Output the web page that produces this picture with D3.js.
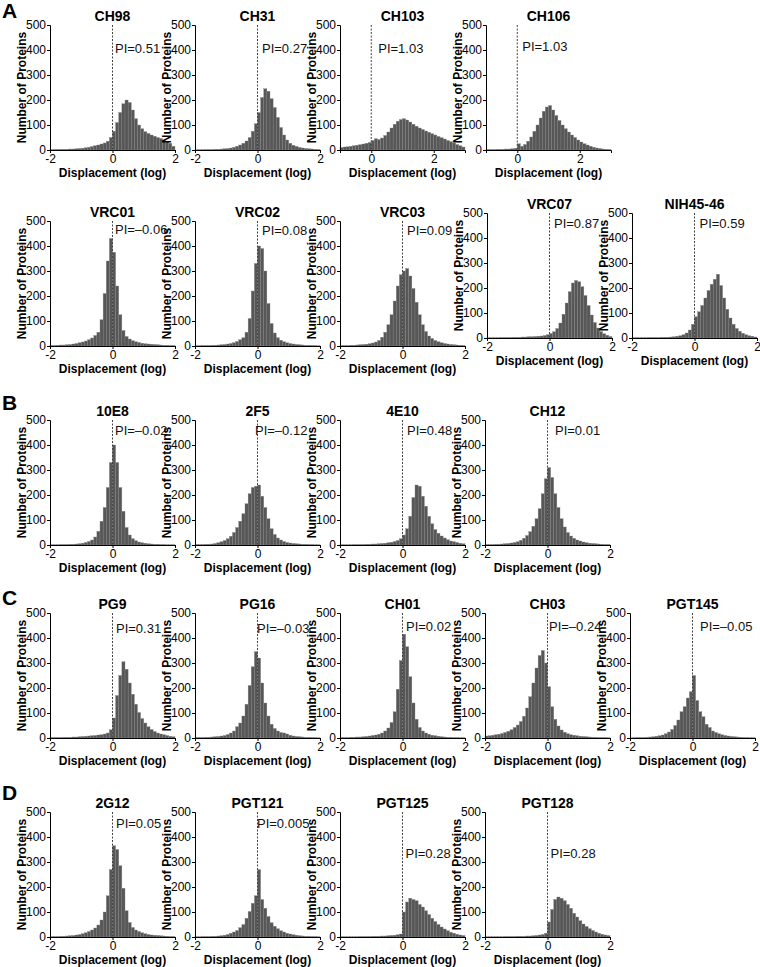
<!DOCTYPE html>
<html><head><meta charset="utf-8">
<script src="https://cdn.jsdelivr.net/npm/d3@7"></script>
<style>
body{margin:0;background:#fff;}
svg{display:block;font-family:"Liberation Sans",Arial,sans-serif;}
</style></head>
<body><svg id="c" width="760" height="967"></svg>
<script>
// ---- data: counts per 0.1-log bin, starting at the panel's domain minimum ----
const CH98   = [2,2,2,3,3,3,4,4,5,6,7,9,11,14,17,20,24,28,35,50,75,110,150,185,200,190,160,125,100,85,73,66,60,55,50,46,40,34,27,15];
const CH31   = [1,1,1,2,2,2,3,3,4,5,6,8,11,15,20,27,36,50,75,105,150,210,245,235,205,170,130,90,60,40,27,19,14,10,8,6,5,4,3,2];
const CH103  = [10,12,13,15,17,19,21,24,27,30,38,45,42,48,58,72,88,103,115,122,125,120,112,103,95,88,82,76,71,65,60,54,49,44,38,33,28,22,17,12];
const CH106  = [2,2,2,3,3,3,4,4,5,7,25,15,22,35,52,75,100,128,155,172,178,160,138,118,100,85,72,60,50,40,32,25,20,15,11,8,6,4,3,2];
const VRC01  = [2,2,3,4,4,5,6,8,10,13,16,20,25,32,42,55,105,210,340,430,375,240,125,62,38,28,21,17,14,11,9,8,7,6,5,4,3,3,2,2];
const VRC02  = [1,1,2,2,2,3,3,4,5,6,8,10,13,18,25,33,55,110,220,330,400,390,300,170,90,52,33,23,17,13,10,8,6,5,4,3,3,2,2,1];
const VRC03  = [2,2,2,3,3,4,5,6,7,9,12,16,22,35,55,85,125,180,240,285,300,310,280,230,175,125,85,58,40,30,22,17,13,10,8,6,5,4,3,2];
const VRC07  = [1,1,1,1,2,2,2,2,3,3,3,4,4,5,5,6,7,8,10,13,18,25,38,60,95,140,185,220,230,225,205,170,130,92,62,40,26,17,11,6];
const NIH4546= [1,1,1,1,1,2,2,2,2,3,3,3,4,5,7,9,13,20,32,55,85,105,130,160,190,215,235,255,210,160,115,80,55,38,27,19,13,9,7,4];
const E10E8  = [1,1,1,2,2,2,3,3,4,5,7,10,14,20,32,55,95,150,230,330,400,330,230,135,70,40,25,17,12,9,7,5,4,3,3,2,2,1,1,1];
const F2F5   = [2,2,2,3,3,4,6,9,13,18,25,35,50,70,95,125,165,205,230,235,240,195,150,105,65,42,28,20,14,10,8,6,5,4,3,3,2,2,1,1];
const E4E10  = [1,1,1,1,2,2,2,2,3,3,4,4,5,6,7,9,11,14,18,25,40,65,115,190,240,235,195,155,115,85,62,47,36,28,21,16,13,10,7,5];
const CH12   = [2,2,2,3,3,4,5,6,8,10,13,19,27,38,53,75,105,145,205,265,310,270,205,150,105,72,50,36,27,20,16,12,9,7,6,5,4,3,2,2];
const PG9    = [2,2,2,2,3,3,3,4,4,5,6,7,8,9,10,12,13,16,20,33,80,170,250,305,275,220,175,135,102,78,60,45,34,26,20,16,13,10,7,5];
const PG16   = [2,2,2,3,3,4,5,6,8,10,14,20,28,45,60,88,135,210,285,345,320,220,140,88,55,38,28,22,20,16,11,8,6,5,4,3,3,2,2,1];
const CH01   = [2,2,2,3,3,4,4,5,6,8,10,12,15,20,28,40,62,105,195,310,415,365,245,140,75,42,28,20,15,11,9,7,5,4,3,3,2,2,1,1];
const CH03   = [8,9,11,13,15,18,22,27,33,42,52,66,87,120,165,220,280,330,350,300,205,125,75,48,32,23,17,13,11,9,7,6,5,4,3,3,2,2,2,1];
const PGT145 = [1,1,2,2,2,3,4,5,7,9,12,17,24,34,50,72,105,125,160,185,250,150,105,85,55,42,28,22,17,13,10,8,6,5,4,3,2,2,1,1];
const G2G12  = [2,2,2,3,3,4,5,6,8,10,13,17,22,28,36,48,68,100,165,270,365,350,285,195,105,58,38,28,22,17,13,10,8,7,6,5,4,3,2,2];
const PGT121 = [1,1,2,2,2,3,3,4,5,7,10,15,20,26,37,50,75,102,135,165,270,150,115,82,57,43,33,25,20,15,12,9,7,5,4,3,3,2,2,1];
const PGT125 = [1,1,1,1,1,1,2,2,2,2,3,3,3,4,4,5,6,7,9,12,100,140,155,150,145,130,120,105,90,75,62,50,40,32,25,19,15,11,8,6];
const PGT128 = [1,1,1,1,1,1,2,2,2,2,3,3,3,4,4,5,6,8,10,15,60,110,150,160,155,145,130,115,95,80,65,52,42,33,26,20,15,11,8,6];

const names  = ["CH98","CH31","CH103","CH106","VRC01","VRC02","VRC03","VRC07","NIH45-46",
                "10E8","2F5","4E10","CH12","PG9","PG16","CH01","CH03","PGT145",
                "2G12","PGT121","PGT125","PGT128"];
const series = [CH98,CH31,CH103,CH106,VRC01,VRC02,VRC03,VRC07,NIH4546,
                E10E8,F2F5,E4E10,CH12,PG9,PG16,CH01,CH03,PGT145,
                G2G12,PGT121,PGT125,PGT128];
const piLabels = ["PI=0.51","PI=0.27","PI=1.03","PI=1.03","PI=–0.06","PI=0.08","PI=0.09","PI=0.87","PI=0.59",
                  "PI=–0.02","PI=–0.12","PI=0.48","PI=0.01","PI=0.31","PI=–0.03","PI=0.02","PI=–0.24","PI=–0.05",
                  "PI=0.05","PI=0.005","PI=0.28","PI=0.28"];
const domains = [[-2,2],[-2,2],[-1,3],[-1,3],[-2,2],[-2,2],[-2,2],[-2,2],[-2,2],
                 [-2,2],[-2,2],[-2,2],[-2,2],[-2,2],[-2,2],[-2,2],[-2,2],[-2,2],
                 [-2,2],[-2,2],[-2,2],[-2,2]];
const yTicks = [0,100,200,300,400,500];
const sectionLabels = ["A","B","C","D"];
const binWidth = 0.1;

// ---- layout (positions only) ----
const layout = [
  {x:50,y:25},{x:195,y:25},{x:340,y:25},{x:486,y:25},
  {x:50,y:221},{x:195,y:221},{x:340,y:221},{x:487,y:213},{x:632,y:213},
  {x:50,y:420},{x:195,y:420},{x:340,y:420},{x:485,y:420},
  {x:50,y:613},{x:195,y:613},{x:340,y:613},{x:485,y:613},{x:630,y:613},
  {x:50,y:812},{x:195,y:812},{x:340,y:812},{x:485,y:812}
];
const piPos = [ [2.5,25],[4.5,25],[7,25],[5,23],
  [2.5,10],[4.5,11],[4.5,11],[4.5,12],[5,12],
  [2.5,12],[-2.5,12],[4.5,12],[7.5,12],
  [3.5,17],[-0.5,17],[3.5,15],[1.5,15],[7.5,15],
  [3.5,13],[-0.5,13],[3,43],[3,43] ];
const sectionPos = [[2,18],[2,410],[2,605],[2,800]];
const W = 125, H = 125;

const svg = d3.select("#c");

sectionLabels.forEach((s,i)=>{
  svg.append("text").attr("x",sectionPos[i][0]).attr("y",sectionPos[i][1])
    .attr("font-size",21).attr("font-weight","bold").attr("fill","#000").text(s);
});

names.forEach((name,i)=>{
  const L = layout[i], dom = domains[i], vals = series[i];
  const x = d3.scaleLinear().domain(dom).range([L.x, L.x+W]);
  const y = d3.scaleLinear().domain([0,500]).range([L.y+H, L.y]);
  const g = svg.append("g");

  // bars
  g.selectAll("rect").data(vals).join("rect")
    .attr("x",(d,k)=>x(dom[0]+k*binWidth))
    .attr("width",(d,k)=>x(dom[0]+(k+1)*binWidth)-x(dom[0]+k*binWidth))
    .attr("y",d=>y(d))
    .attr("height",d=>y(0)-y(d))
    .attr("fill","#575757")
    .attr("stroke","#858585")
    .attr("stroke-width",0.35);

  // dashed zero line
  g.append("line").attr("x1",x(0)).attr("x2",x(0)).attr("y1",y(500)).attr("y2",y(0))
    .attr("stroke","#444").attr("stroke-width",1).attr("stroke-dasharray","2,1.5");

  // axes
  const ya = g.append("g").attr("transform",`translate(${L.x},0)`)
    .call(d3.axisLeft(y).tickValues(yTicks).tickSize(3).tickPadding(1));
  const xt = dom[0] === -2 ? [-2,0,2] : [0,2];
  const xa = g.append("g").attr("transform",`translate(0,${L.y+H})`)
    .call(d3.axisBottom(x).tickValues(xt).tickSize(3).tickPadding(1).tickFormat(d=> d<0 ? "-"+Math.abs(d) : String(d)));
  [ya,xa].forEach(a=>{
    a.select(".domain").attr("stroke","#000").attr("stroke-width",1);
    a.selectAll(".tick line").attr("stroke","#000");
    a.selectAll(".tick text").attr("font-size",12).attr("fill","#000").attr("font-family","Liberation Sans, Arial, sans-serif");
  });

  // titles
  g.append("text").attr("x",L.x+W/2).attr("y",L.y-8).attr("text-anchor","middle")
    .attr("dominant-baseline","middle").attr("font-size",14).attr("font-weight","bold").text(name);
  g.append("text").attr("x",x(0)+piPos[i][0]).attr("y",L.y+piPos[i][1])
    .attr("dominant-baseline","middle").attr("font-size",13).attr("fill","#111").text(piLabels[i]);
  g.append("text").attr("x",L.x+W/2).attr("y",L.y+H+24).attr("text-anchor","middle")
    .attr("dominant-baseline","middle").attr("font-size",12).attr("font-weight","bold").text("Displacement (log)");
  g.append("text").attr("transform",`translate(${L.x-27},${L.y+H/2}) rotate(-90)`)
    .attr("text-anchor","middle").attr("dominant-baseline","middle")
    .attr("font-size",12).attr("font-weight","bold").text("Number of Proteins");
});
</script></body></html>
